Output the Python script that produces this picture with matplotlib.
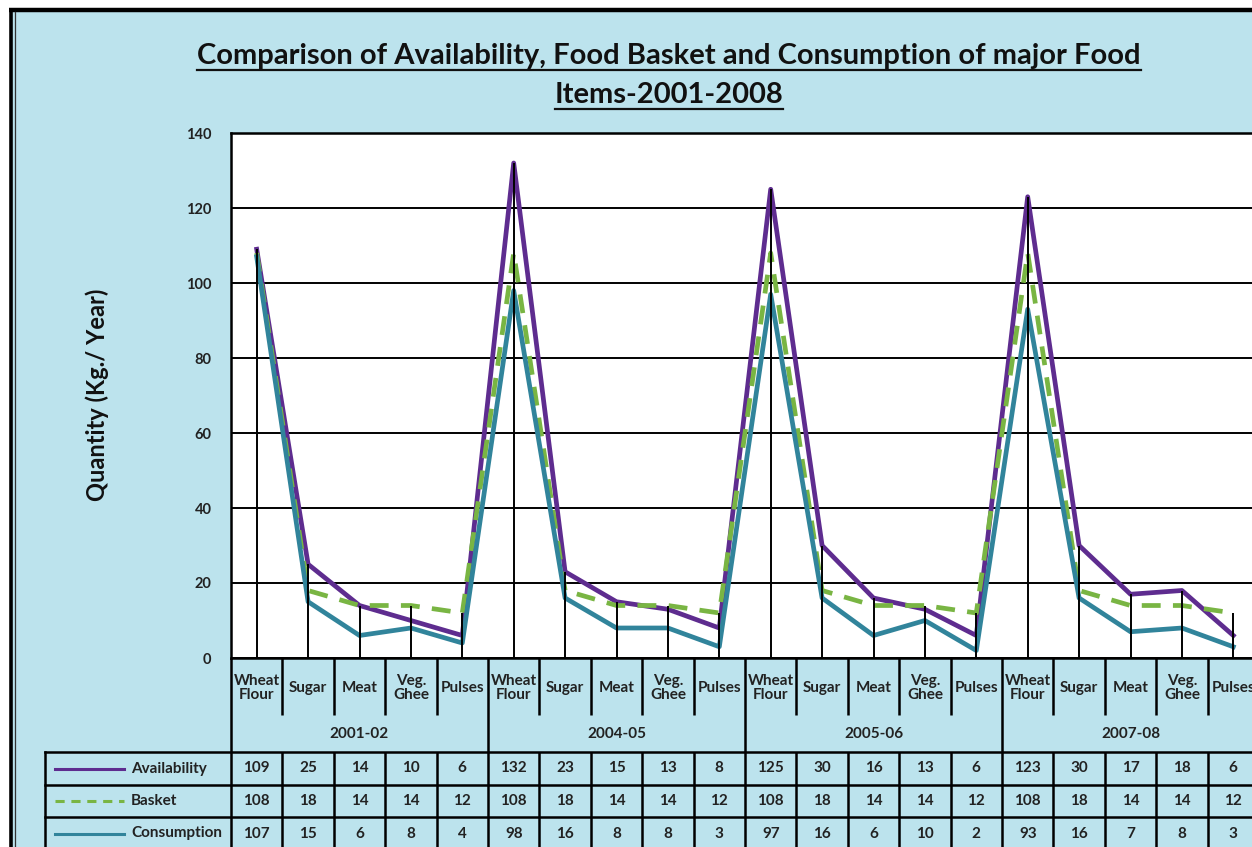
import matplotlib
matplotlib.use('Agg')
import matplotlib.pyplot as plt
from matplotlib.transforms import blended_transform_factory

plt.rcParams['font.family'] = ['Lato', 'DejaVu Sans']

# data
years = ['2001-02', '2004-05', '2005-06', '2007-08']
items = ['Wheat\nFlour', 'Sugar', 'Meat', 'Veg.\nGhee', 'Pulses']
availability = [109, 25, 14, 10, 6, 132, 23, 15, 13, 8, 125, 30, 16, 13, 6, 123, 30, 17, 18, 6]
basket = [108, 18, 14, 14, 12, 108, 18, 14, 14, 12, 108, 18, 14, 14, 12, 108, 18, 14, 14, 12]
consumption = [107, 15, 6, 8, 4, 98, 16, 8, 8, 3, 97, 16, 6, 10, 2, 93, 16, 7, 8, 3]

series = [('Availability', availability, '#5E2C8F', '-'),
          ('Basket', basket, '#79B543', (0, (4, 2.6))),
          ('Consumption', consumption, '#31849B', '-')]

W, H = 1252, 847
BLUE = '#BCE3ED'
fig = plt.figure(figsize=(W / 100, H / 100), dpi=100, facecolor='white')

# background + frame in pixel coordinates
bg = fig.add_axes([0, 0, 1, 1], zorder=-1)
bg.set_xlim(0, W)
bg.set_ylim(H, 0)
bg.axis('off')
bg.add_patch(plt.Rectangle((11, 10), W, H, facecolor=BLUE, edgecolor='none'))
bg.plot([9, W], [10, 10], color='black', lw=3.2, solid_capstyle='butt')
bg.plot([11, 11], [9, H], color='black', lw=2.6, solid_capstyle='butt')
bg.plot([14.5, 14.5], [12, H], color='#333333', lw=0.9)

# main plot area (extends past right edge like the original crop)
left, top, bottom = 231, 133, 658
colw = 51.4
n = len(availability)
ax = fig.add_axes([left / W, 1 - bottom / H, n * colw / W, (bottom - top) / H])
ax.set_facecolor('white')
x = list(range(n))
for name, vals, col, ls in series:
    ax.plot(x, vals, color=col, ls=ls, lw=3.4, label=name, zorder=3)
tops = [max(a, b, c) for a, b, c in zip(availability, basket, consumption)]
ax.vlines(x, 0, tops, color='black', lw=1.4, zorder=4)

ax.set_xlim(-0.5, n - 0.5)
ax.set_ylim(0, 140)
ax.set_yticks(range(0, 141, 20))
ax.yaxis.grid(True, color='black', lw=1.4)
ax.set_axisbelow(True)
ax.set_xticks([])
ax.tick_params(axis='y', length=0, pad=14, labelsize=10.5, labelcolor='#222222')
for lab in ax.get_yticklabels():
    lab.set_fontweight('bold')
for s in ax.spines.values():
    s.set_color('black')
    s.set_linewidth(1.8)

# category axis + data table, drawn under the plot
tr = blended_transform_factory(ax.transData, ax.transAxes)
ph = bottom - top


def ay(py):
    return (bottom - py) / ph


lk = dict(color='black', lw=1.8, clip_on=False, transform=tr, solid_capstyle='butt')
y_sub, y_grp = ay(715), ay(752)
rows_y = [ay(752), ay(785), ay(817), ay(850)]
for k in range(n + 1):
    xb = k - 0.5
    if k % len(items) == 0:
        ax.plot([xb, xb], [0, rows_y[-1]], **lk)
    else:
        ax.plot([xb, xb], [0, y_sub], **lk)
        ax.plot([xb, xb], [y_grp, rows_y[-1]], **lk)

tk = dict(transform=tr, ha='center', va='center', fontsize=11, fontweight='bold',
          color='#222222', clip_on=False)
for i in range(n):
    ax.text(i, ay(688), items[i % len(items)], linespacing=1.05, **tk)
for g, yr in enumerate(years):
    ax.text(g * len(items) + 2, ay(734), yr, **tk)

# table rows
ta = ax.transAxes
x_leg = (45 - left) / (n * colw)
for ry in rows_y[:3]:
    ax.plot([x_leg, 1.0], [ry, ry], color='black', lw=1.8, clip_on=False, transform=ta)
ax.plot([x_leg, x_leg], [rows_y[0], rows_y[-1]], color='black', lw=1.8,
        clip_on=False, transform=ta)
for r, (name, vals, col, ls) in enumerate(series):
    yc = (rows_y[r] + rows_y[r + 1]) / 2
    ax.plot([(55 - left) / (n * colw), (124 - left) / (n * colw)], [yc, yc],
            color=col, ls=(0, (3, 2.2)) if ls != '-' else '-', lw=2.2,
            clip_on=False, transform=ta)
    ax.text((131 - left) / (n * colw), yc, name, transform=ta, ha='left', va='center',
            fontsize=11, fontweight='bold', color='#222222', clip_on=False)
    for i, v in enumerate(vals):
        ax.text(i, yc, str(v), **tk)

# titles
t1 = fig.text(669 / W, 1 - 56 / H,
              'Comparison of Availability, Food Basket and Consumption of major Food',
              ha='center', va='center', fontsize=21, fontweight='bold', color='#111111')
t2 = fig.text(669 / W, 1 - 95 / H, 'Items-2001-2008',
              ha='center', va='center', fontsize=21, fontweight='bold', color='#111111')
fig.text(97 / W, 1 - 395 / H, 'Quantity (Kg./ Year)', rotation=90, ha='center',
         va='center', fontsize=17, fontweight='bold', color='#111111')

# underline the title lines
fig.canvas.draw()
rend = fig.canvas.get_renderer()
for t in (t1, t2):
    bb = t.get_window_extent(renderer=rend)
    yy = H - bb.y0 + 1
    bg.plot([bb.x0, bb.x1], [yy, yy], color='#111111', lw=1.6)

fig.savefig('out.png', dpi=100, facecolor='white')
